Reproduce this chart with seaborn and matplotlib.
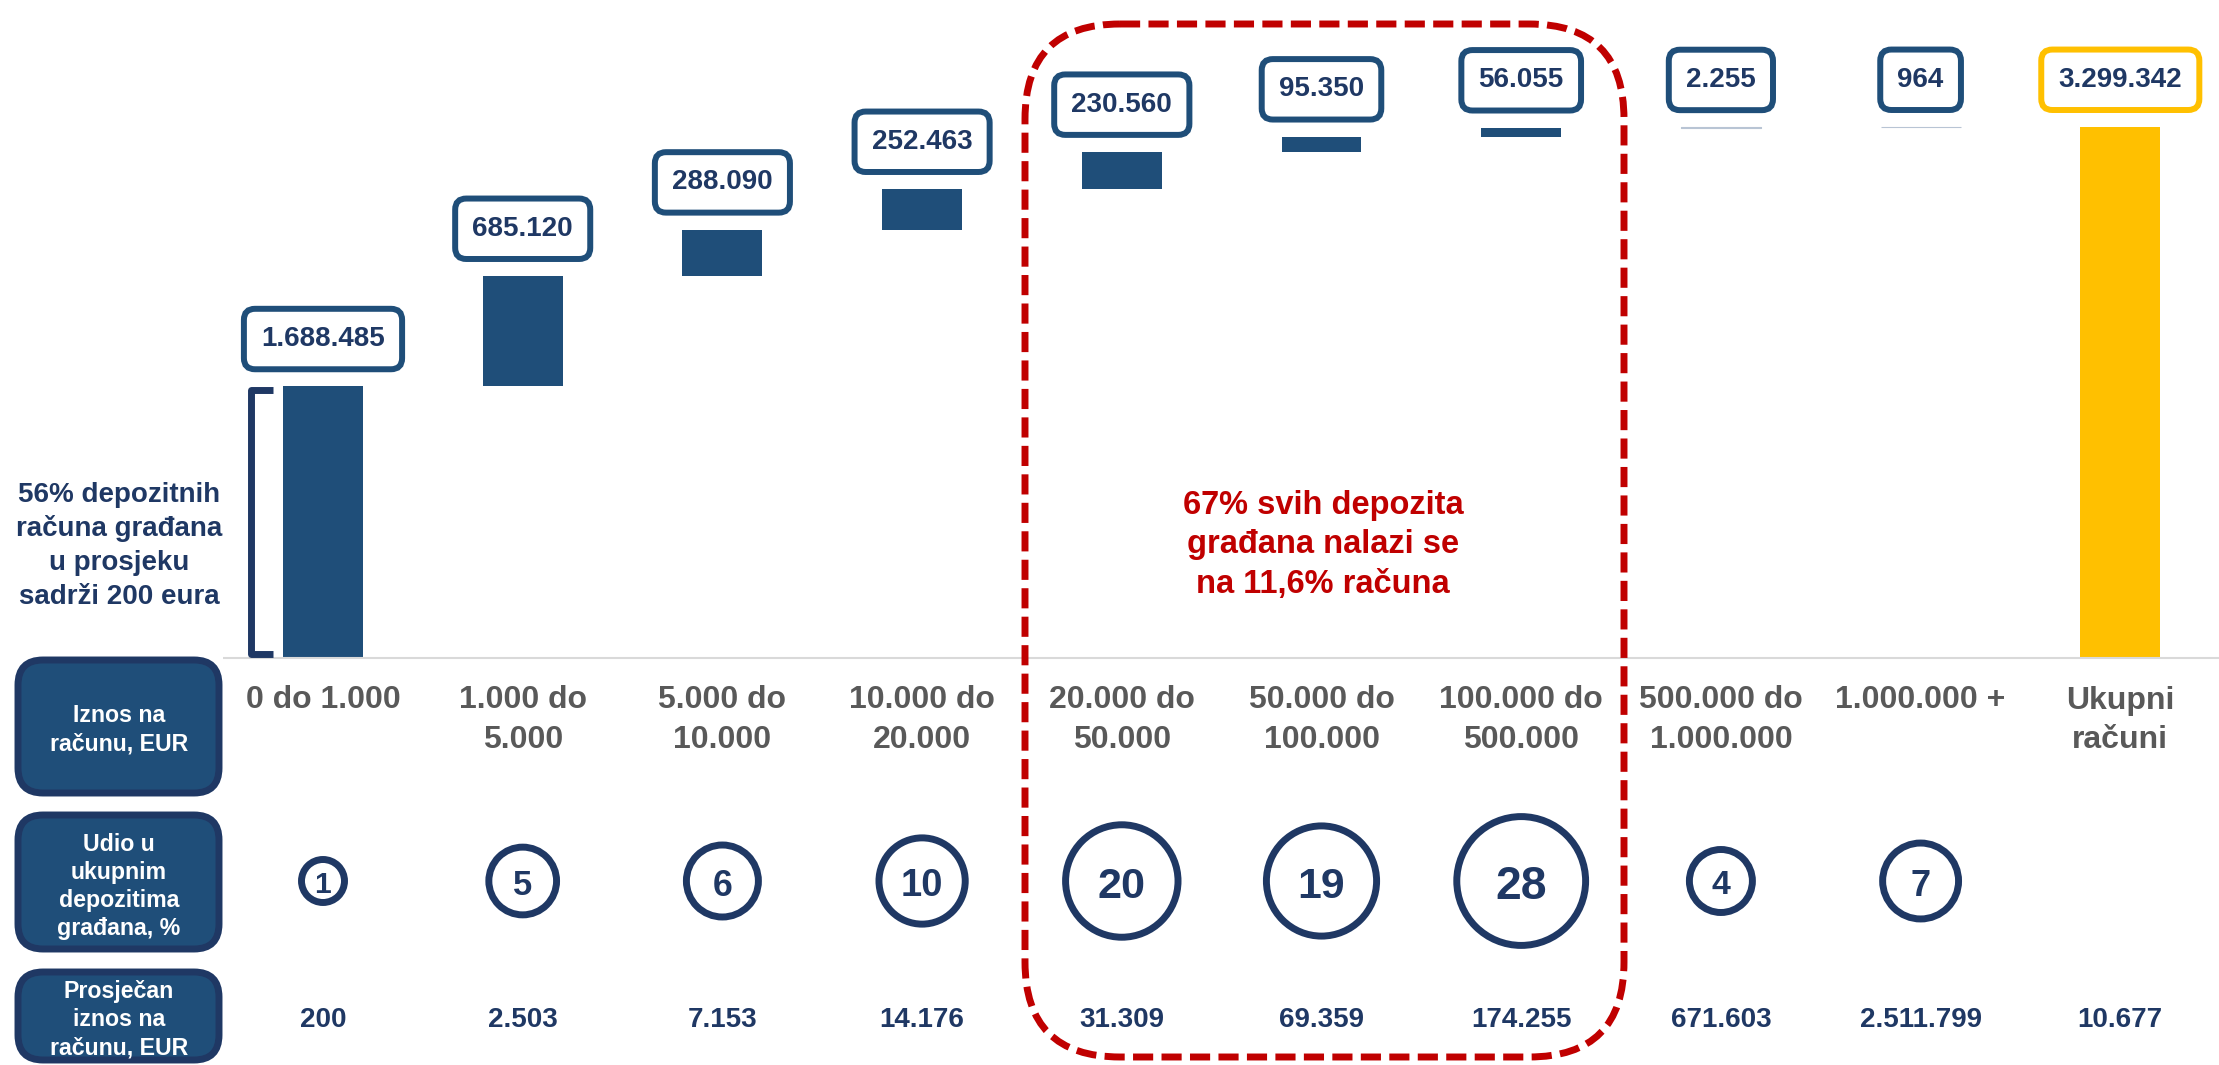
import matplotlib
matplotlib.use('Agg')
import matplotlib.pyplot as plt
import matplotlib.transforms as mtransforms
from matplotlib.patches import FancyBboxPatch
from matplotlib.path import Path
import matplotlib.patches as mpatches
import numpy as np
import pandas as pd
import seaborn as sns

# Data
categories = ['0 do 1.000', '1.000 do\n5.000', '5.000 do\n10.000', '10.000 do\n20.000',
              '20.000 do\n50.000', '50.000 do\n100.000', '100.000 do\n500.000',
              '500.000 do\n1.000.000', '1.000.000 +', 'Ukupni\nračuni']
accounts = [1688485, 685120, 288090, 252463, 230560, 95350, 56055, 2255, 964]
share_pct = [1, 5, 6, 10, 20, 19, 28, 4, 7]
avg_amount = ['200', '2.503', '7.153', '14.176', '31.309', '69.359', '174.255',
              '671.603', '2.511.799', '10.677']
row_labels = [['Iznos na', 'računu, EUR'],
              ['Udio u', 'ukupnim', 'depozitima', 'građana, %'],
              ['Prosječan', 'iznos na', 'računu, EUR']]
left_note = ['56% depozitnih', 'računa građana', 'u prosjeku', 'sadrži 200 eura']
red_note = ['67% svih depozita', 'građana nalazi se', 'na 11,6% računa']

# Colours
BAR = '#1F4E79'
NAVY = '#1F3864'
GOLD = '#FFC000'
GREY = '#595959'
RED = '#C00000'

total = sum(accounts)
ends = np.cumsum(accounts)
starts = ends - np.array(accounts)
df = pd.DataFrame({'cat': categories,
                   'height': accounts + [total],
                   'bottom': list(starts) + [0]})
df['top'] = df['height'] + df['bottom']

def fmt(v):
    return f'{v:,}'.replace(',', '.')

sns.set_style('white')
plt.rcParams['font.family'] = ['Liberation Sans', 'DejaVu Sans']
plt.rcParams['font.weight'] = 'bold'

W, H = 2219, 1065
fig = plt.figure(figsize=(W / 100, H / 100), dpi=100)
ax = fig.add_axes([0, 0, 1, 1])
ov = fig.add_axes([0, 0, 1, 1])
ov.set_xlim(0, W)
ov.set_ylim(H, 0)
ov.axis('off')
ov.patch.set_visible(False)

# x: data (category index), y: pixels from the top
tr = mtransforms.blended_transform_factory(ax.transData, ov.transData)

# waterfall bars
sns.barplot(data=df, x='cat', y='height', bottom=df['bottom'], color=BAR,
            saturation=1, width=0.4, linewidth=0, errorbar=None, ax=ax)
ax.patches[-1].set_facecolor(GOLD)
# the two tiny steps only show as a faint line
for p in ax.patches[7:9]:
    p.set_edgecolor('#B8C4D4')
    p.set_linewidth(0.8)

# value boxes above the bars
for i, row in df.iterrows():
    ec = GOLD if i == len(df) - 1 else BAR
    ax.annotate(fmt(row['height']), xy=(i, row['top']), xytext=(0, 34),
                textcoords='offset points', ha='center', va='center',
                fontsize=20, color=NAVY, zorder=5,
                bbox=dict(boxstyle='round,pad=0.62,rounding_size=0.4',
                          fc='white', ec=ec, lw=4.3))

# baseline
ax.hlines(0, -0.5, 10, color='#D9D9D9', lw=1.5, zorder=1)

# category labels
for i, c in enumerate(categories):
    for k, line in enumerate(c.split('\n')):
        ax.text(i, 697 + 40 * k, line, transform=tr, ha='center',
                va='center_baseline', fontsize=23, color=GREY)

# share circles
sizes = [((30 + 20 * np.sqrt(v) - 7) * 0.72) ** 2 for v in share_pct]
sns.scatterplot(x=np.arange(len(share_pct)), y=[881] * len(share_pct), s=sizes,
                color='white', edgecolor=NAVY, linewidth=5, transform=tr,
                legend=False, zorder=4, ax=ax)
for i, v in enumerate(share_pct):
    ax.text(i, 882, str(v), transform=tr, ha='center', va='center_baseline',
            fontsize=19 + 2.7 * np.sqrt(v), color=NAVY, zorder=6)

# average amount row
for i, v in enumerate(avg_amount):
    ax.text(i, 1017, v, transform=tr, ha='center', va='center_baseline',
            fontsize=20, color=NAVY)

x0, dx = 323, 199.7
base, top_px = 658, 127
scale = total / (base - top_px)
ax.set_xlim(-x0 / dx, (W - x0) / dx)
ax.set_ylim(-(H - base) * scale, base * scale)
ax.axis('off')

# left header boxes
boxes = [(18, 660, 201, 133, 713), (18, 815, 201, 134, 842), (18, 972, 201, 88, 989)]
for (bx, by, bw, bh, ty), lines in zip(boxes, row_labels):
    ov.add_patch(FancyBboxPatch((bx, by), bw, bh,
                                boxstyle='round,pad=0,rounding_size=25',
                                fc=BAR, ec=NAVY, lw=5))
    for k, line in enumerate(lines):
        ov.text(119, ty + 28 * k, line, ha='center', va='center_baseline',
                fontsize=16.7, color='white')

# left annotation with bracket
for k, line in enumerate(left_note):
    ov.text(119, 492 + 34 * k, line, ha='center', va='center_baseline',
            fontsize=20, color=NAVY)
bracket = Path([(273, 390), (251, 390), (251, 654), (273, 654)])
ov.add_patch(mpatches.PathPatch(bracket, fill=False, ec=NAVY, lw=5,
                                joinstyle='round', capstyle='butt'))

# red dashed highlight
ov.add_patch(FancyBboxPatch((1025, 24), 599, 1033,
                            boxstyle='round,pad=0,rounding_size=95',
                            fill=False, ec=RED, lw=5, ls=(0, (2.9, 1.2))))
for k, line in enumerate(red_note):
    ov.text(1323, 502 + 39.5 * k, line, ha='center', va='center_baseline',
            fontsize=23.5, color=RED)

fig.savefig('out.png', dpi=100)
